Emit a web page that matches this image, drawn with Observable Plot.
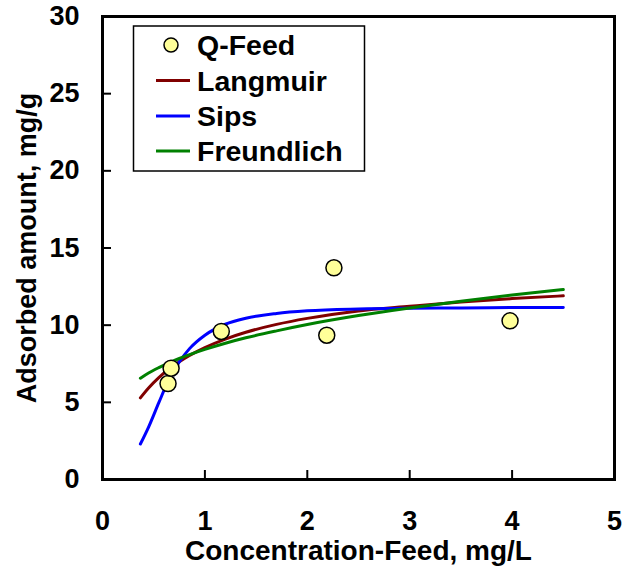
<!DOCTYPE html>
<html>
<head>
<meta charset="utf-8">
<script src="https://cdn.jsdelivr.net/npm/d3@7"></script>
<script src="https://cdn.jsdelivr.net/npm/@observablehq/plot@0.6"></script>
<style>
  html, body { margin: 0; padding: 0; background: #fff; }
  #chart { width: 625px; height: 577px; }
</style>
</head>
<body>
<div id="chart"></div>
<script>
// Measured feed concentrations (mg/L) and adsorbed amounts (mg/g)
const feedC = [0.64, 0.67, 1.16, 2.19, 2.26, 3.98];
const feedQ = [6.22, 7.21, 9.59, 9.35, 13.72, 10.28];

// Isotherm model curves sampled along the concentration range
const fitC        = [0.37, 0.45, 0.55, 0.65, 0.75, 0.85, 1.0, 1.2, 1.4, 1.7, 2.0, 2.5, 3.0, 3.5, 4.0, 4.5];
const langmuirQ   = [5.29, 5.93, 6.60, 7.16, 7.63, 8.04, 8.55, 9.10, 9.54, 10.05, 10.44, 10.92, 11.22, 11.50, 11.72, 11.90];
const sipsQ       = [2.30, 3.40, 4.98, 6.50, 7.62, 8.48, 9.35, 10.06, 10.45, 10.76, 10.93, 11.05, 11.10, 11.12, 11.14, 11.15];
const freundlichQ = [6.56, 6.90, 7.25, 7.56, 7.84, 8.09, 8.43, 8.83, 9.18, 9.63, 10.04, 10.62, 11.11, 11.55, 11.95, 12.31];

// Axis ticks and titles
const xTicks = [0, 1, 2, 3, 4, 5];
const yTicks = [0, 5, 10, 15, 20, 25, 30];
const xTitle = "Concentration-Feed, mg/L";
const yTitle = "Adsorbed amount, mg/g";

// Legend entries
const legendLabels = ["Q-Feed", "Langmuir", "Sips", "Freundlich"];
const seriesColors = { Langmuir: "#800000", Sips: "#0000ff", Freundlich: "#008000" };
const pointFill = "#ffff99";

const font = "'Liberation Sans', Arial, Helvetica, sans-serif";

const curve = (ys) => fitC.map((c, i) => ({ c, q: ys[i] }));
const points = feedC.map((c, i) => ({ c, q: feedQ[i] }));

const W = 625, H = 577;
const margin = { top: 16, right: 11, bottom: 98, left: 102 };
const innerW = W - margin.left - margin.right;
const innerH = H - margin.top - margin.bottom;
const tickLen = 9;

const lineOpts = (color) => ({ x: "c", y: "q", stroke: color, strokeWidth: 3, curve: "monotone-x" });

const chart = Plot.plot({
  width: W,
  height: H,
  marginTop: margin.top,
  marginRight: margin.right,
  marginBottom: margin.bottom,
  marginLeft: margin.left,
  style: { fontFamily: font, fontWeight: "bold", color: "#000", background: "#fff", overflow: "visible" },
  x: { domain: [0, 5] },
  y: { domain: [0, 30] },
  marks: [
    // tick labels
    Plot.axisX(xTicks, { tickSize: 0, tickPadding: 31, fontSize: 27, fontWeight: "bold", label: null }),
    Plot.axisY(yTicks, { tickSize: 0, tickPadding: 23, fontSize: 27, fontWeight: "bold", label: null }),
    // inward tick marks
    Plot.tickX(xTicks.slice(1, -1), { x: d => d, insetTop: innerH - tickLen, stroke: "#000", strokeWidth: 2 }),
    Plot.tickY(yTicks.slice(1, -1), { y: d => d, insetRight: innerW - tickLen, stroke: "#000", strokeWidth: 2 }),
    // model curves
    Plot.line(curve(langmuirQ), lineOpts(seriesColors.Langmuir)),
    Plot.line(curve(sipsQ), lineOpts(seriesColors.Sips)),
    Plot.line(curve(freundlichQ), lineOpts(seriesColors.Freundlich)),
    // measured points
    Plot.dot(points, { x: "c", y: "q", r: 8, fill: pointFill, stroke: "#000", strokeWidth: 1.5 }),
    Plot.frame({ stroke: "#000", strokeWidth: 3 }),
    // axis titles
    Plot.text([xTitle], { text: d => d, frameAnchor: "bottom", dy: 72, fontSize: 28, fontWeight: "bold", textAnchor: "middle", lineAnchor: "middle" }),
    Plot.text([yTitle], { text: d => d, frameAnchor: "left", dx: -75, rotate: -90, fontSize: 27, fontWeight: "bold", textAnchor: "middle", lineAnchor: "middle" })
  ]
});

document.getElementById("chart").append(chart);

// Legend box inside the top-left of the plot area
const legendFont = 28.5;
const svg = d3.select(chart);
const lg = svg.append("g")
  .attr("font-family", font).attr("font-weight", "bold").attr("font-size", legendFont)
  .attr("text-anchor", "start");
const box = { x: 133.5, y: 26, w: 231, h: 145 };
lg.append("rect")
  .attr("x", box.x).attr("y", box.y).attr("width", box.w).attr("height", box.h)
  .attr("fill", "#fff").attr("stroke", "#000").attr("stroke-width", 1.5);

const rowY = [45, 80.5, 116, 151];
legendLabels.forEach((label, i) => {
  const cy = rowY[i];
  if (i === 0) {
    lg.append("circle").attr("cx", 171).attr("cy", cy).attr("r", 7)
      .attr("fill", pointFill).attr("stroke", "#000").attr("stroke-width", 1.5);
  } else {
    lg.append("line").attr("x1", 156).attr("x2", 190).attr("y1", cy).attr("y2", cy)
      .attr("stroke", seriesColors[label]).attr("stroke-width", 3);
  }
  lg.append("text").attr("x", 197).attr("y", cy + 0.358 * legendFont)
    .attr("text-anchor", "start").text(label);
});
</script>
</body>
</html>
